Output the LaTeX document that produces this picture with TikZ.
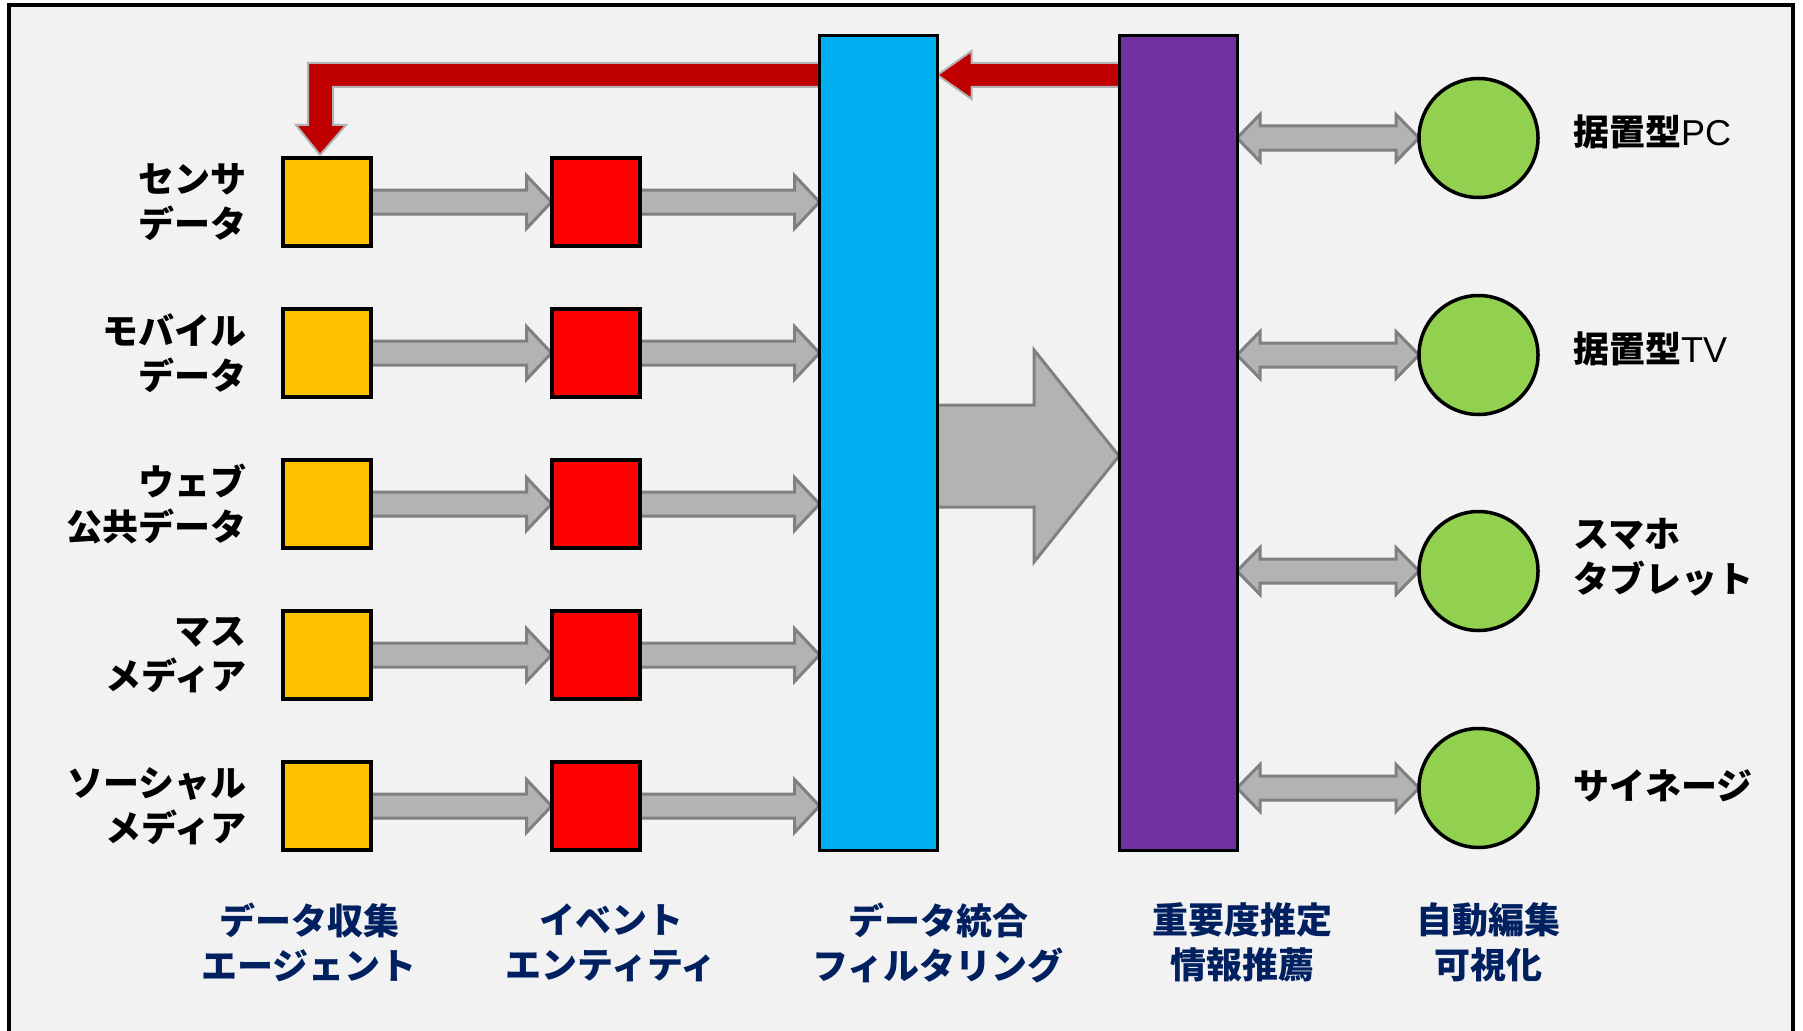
\documentclass[tikz,border=0pt]{standalone}
\usepackage{fontspec}
\newfontfamily\jpfont{Noto Sans CJK JP}
\newfontfamily\latinfont{Liberation Sans}
\usetikzlibrary{calc}

\definecolor{bgGray}{HTML}{F2F2F2}
\definecolor{srcOrange}{HTML}{FFC000}
\definecolor{entRed}{HTML}{FF0000}
\definecolor{mergeBlue}{HTML}{00B0F0}
\definecolor{rankPurple}{HTML}{7030A0}
\definecolor{devGreen}{HTML}{92D050}
\definecolor{fbRed}{HTML}{C00000}
\definecolor{pipeFill}{HTML}{B3B3B3}
\definecolor{pipeLine}{HTML}{808080}
\definecolor{capNavy}{HTML}{002060}

\pgfdeclarelayer{back}
\pgfdeclarelayer{pipes}
\pgfsetlayers{back,pipes,main}

\tikzset{
    srcbox/.style={draw, line width=4pt, fill=srcOrange, minimum size=88pt, inner sep=0pt, outer sep=0pt},
    entbox/.style={srcbox, fill=entRed},
    stagebar/.style={draw, line width=3pt, minimum width=118pt, minimum height=815pt, inner sep=0pt, outer sep=0pt},
    devnode/.style={circle, draw, line width=3.5pt, fill=devGreen, minimum size=119pt, inner sep=0pt, outer sep=0pt},
    sidelabel/.style={font=\jpfont\bfseries\fontsize{36}{45}\selectfont, inner sep=0pt},
    caption/.style={sidelabel, text=capNavy, align=center},
    pipe/.style={fill=pipeFill, draw=pipeLine, line width=3pt},
    feedback/.style={fill=fbRed, draw=black!30, line width=2pt},
}

% [style]{from}{to}{shaft}{head}{head length}
\newcommand{\pipearrow}[6][pipe]{%
    \draw[#1] let \p1=(#2), \p2=(#3), \n1={\x2-(#6)} in
        (\x1,\y1+#4) -- (\n1,\y1+#4) -- (\n1,\y1+#5) -- (\x2,\y1)
        -- (\n1,\y1-#5) -- (\n1,\y1-#4) -- (\x1,\y1-#4) -- cycle;}
% {from}{to}{shaft}{head}{head length}
\newcommand{\duplexarrow}[5]{%
    \draw[pipe] let \p1=(#1), \p2=(#2) in
        (\x1,\y1) -- (\x1+#5,\y1+#4) -- (\x1+#5,\y1+#3) -- (\x2-#5,\y1+#3)
        -- (\x2-#5,\y1+#4) -- (\x2,\y1) -- (\x2-#5,\y1-#4) -- (\x2-#5,\y1-#3)
        -- (\x1+#5,\y1-#3) -- (\x1+#5,\y1-#4) -- cycle;}

\begin{document}
\begin{tikzpicture}[x=1pt, y=-1pt]
    \useasboundingbox (0,0) rectangle (1803,1030);
    \begin{pgfonlayer}{back}
        \draw[line width=4.5pt, fill=bgGray] (9,5) rectangle (1793,1045);
    \end{pgfonlayer}

    % stages
    \node[stagebar, fill=mergeBlue] (merge) at (878.5,443) {};
    \node[stagebar, fill=rankPurple] (rank) at (1178,443) {};

    % sources and entities
    \foreach \k/\rowy/\txt in {1/202/{センサ\\データ}, 2/353/{モバイル\\データ},
            3/504/{ウェブ\\公共データ}, 4/655/{マス\\メディア}, 5/806/{ソーシャル\\メディア}} {
        \node[srcbox] (src\k) at (327,\rowy) {};
        \node[entbox] (ent\k) at (595.5,\rowy) {};
        \node[sidelabel, align=right, anchor=east] (srclabel\k) at (247,\rowy) {\txt};
    }
    \begin{pgfonlayer}{pipes}
        \foreach \k in {1,...,5} {
            \pipearrow{src\k.east}{ent\k.west}{12pt}{26.5pt}{25pt}
            \pipearrow{ent\k.east}{merge.west |- ent\k.east}{12pt}{26.5pt}{25pt}
        }
    \end{pgfonlayer}

    % output devices
    \foreach \k/\rowy/\labely/\txt in {1/138/132/{据置型{\latinfont\mdseries PC}},
            2/355/349/{据置型{\latinfont\mdseries TV}},
            3/571/557/{スマホ\\タブレット}, 4/788/786/{サイネージ}} {
        \node[devnode] (dev\k) at (1478.5,\rowy) {};
        \node[sidelabel, align=left, anchor=west] (devlabel\k) at (1573,\labely) {\txt};
    }
    \begin{pgfonlayer}{pipes}
        \foreach \k in {1,...,4} {
            \duplexarrow{rank.east |- dev\k.west}{dev\k.west}{12pt}{23.5pt}{23pt}
        }
    \end{pgfonlayer}

    % feedback and main flow
    \coordinate (fbY) at (0,75);
    \coordinate (flowY) at (0,456);
    \begin{pgfonlayer}{pipes}
        \pipearrow{merge.east |- flowY}{rank.west |- flowY}{51pt}{106pt}{85pt}
        \pipearrow[feedback]{rank.west |- fbY}{merge.east |- fbY}{12pt}{24pt}{-34pt}
        \draw[feedback] let \p1=(merge.west |- fbY), \p2=(src1.north) in
            (\x1,\y1+12pt) -- (\x2-19pt,\y1+12pt) -- (\x2-19pt,\y2+33pt)
            -- (\x2-31pt,\y2+33pt) -- (\x2-7pt,\y2+3pt) -- (\x2+19pt,\y2+33pt)
            -- (\x2+6pt,\y2+33pt) -- (\x2+6pt,\y1-12pt) -- (\x1,\y1-12pt) -- cycle;
    \end{pgfonlayer}

    % captions
    \node[caption] (cap1) at (309,942.5) {データ収集\\エージェント};
    \node[caption] (cap2) at (611,942.5) {イベント\\エンティティ};
    \node[caption] (cap3) at (938,942.5) {データ統合\\フィルタリング};
    \node[caption] (cap4) at (1242,942.5) {重要度推定\\情報推薦};
    \node[caption] (cap5) at (1488,942.5) {自動編集\\可視化};
\end{tikzpicture}
\end{document}
